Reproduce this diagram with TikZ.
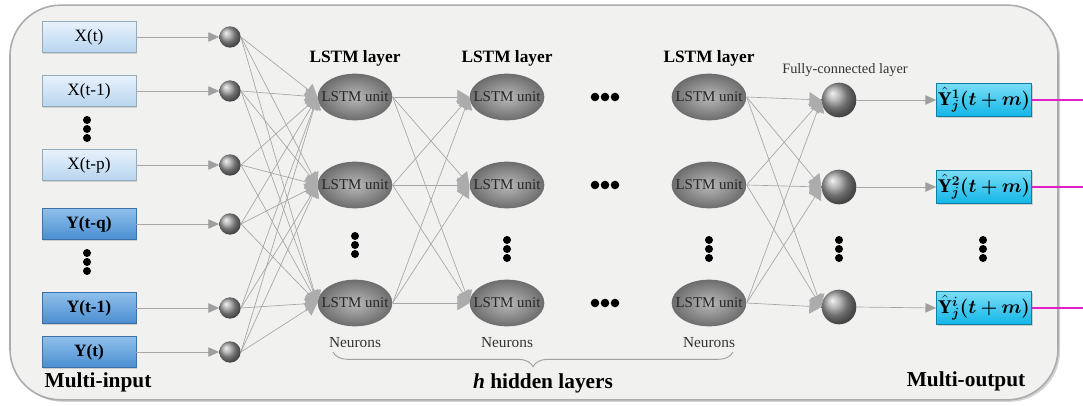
\documentclass[tikz,border=0pt]{standalone}
\usepackage{fontspec}
\setmainfont{Liberation Serif}
\usepackage{bm}
\usetikzlibrary{shapes.geometric,shadows,arrows.meta,decorations.pathreplacing}
\definecolor{xtop}{HTML}{E8F2FC}
\definecolor{xbot}{HTML}{B8D5EF}
\definecolor{ytop}{HTML}{90C0EC}
\definecolor{ybot}{HTML}{4A8DD0}
\definecolor{otop}{HTML}{7ADDF7}
\definecolor{obot}{HTML}{12B6E8}
\definecolor{mag}{HTML}{E020C8}
\definecolor{bgfill}{HTML}{F1F1EF}
\begin{document}
\begin{tikzpicture}[x=0.75pt,y=-0.75pt,
  xbox/.style={rectangle,minimum width=70.5pt,minimum height=23.5pt,inner sep=1pt,top color=xtop,bottom color=xbot,draw=xbot!80!black,line width=0.3pt,drop shadow={opacity=0.3,shadow xshift=1pt,shadow yshift=-1pt},font=\fontsize{13}{15}\selectfont},
  ybox/.style={xbox,top color=ytop,bottom color=ybot,draw=ybot!80!black,font=\fontsize{13}{15}\selectfont\bfseries},
  obox/.style={xbox,minimum width=71.5pt,minimum height=25pt,inner sep=0.5pt,top color=otop,bottom color=obot,draw=obot!70!black,font=\fontsize{14.5}{16}\selectfont},
  neuron/.style={circle,minimum size=16pt,inner sep=0pt,ball color=gray!75,draw=none},
  fcn/.style={circle,minimum size=26pt,inner sep=0pt,ball color=gray!75,draw=none},
  lstm/.style={ellipse,minimum width=56pt,minimum height=35pt,inner sep=0pt,inner color=gray!55,outer color=gray!85!black,draw=none},
  unitlab/.style={label={[font=\fontsize{11.2}{13}\selectfont,text=black!85]center:LSTM unit}},
  conn/.style={draw=gray!70,line width=0.5pt},
  arr/.style={conn,-{Triangle[length=8pt,width=7pt,color=gray!75,fill=gray!75]}},
  bigarr/.style={conn,-{Triangle[length=9pt,width=11pt,color=gray!65,fill=gray!65]}},
  layerlab/.style={font=\fontsize{13}{15}\selectfont\bfseries},
  neulab/.style={font=\fontsize{11.5}{13}\selectfont,text=black!80},
  biglab/.style={font=\fontsize{16}{18}\selectfont\bfseries},
  dotc/.style={fill=black}
]
\useasboundingbox (0,0) rectangle (1083,406);
% background panel
\node[draw=gray!65,line width=1.2pt,fill=bgfill,rounded corners=38pt,minimum width=786pt,minimum height=296pt,inner sep=0pt,drop shadow={opacity=0.35,shadow xshift=1.5pt,shadow yshift=-1.5pt}] (panel) at (534,202.5) {};

% input boxes
\node[xbox] (x0) at (89,37) {X(t)};
\node[xbox] (x1) at (89,91) {X(t-1)};
\node[xbox] (xp) at (89,165) {X(t-p)};
\node[ybox] (yq) at (89,224) {Y(t-q)};
\node[ybox] (y1) at (89,308) {Y(t-1)};
\node[ybox] (y0) at (89,352) {Y(t)};

% input neurons
\foreach \n/\y in {a/37,b/91,c/165,d/224,e/308,f/352}
  \node[neuron] (n\n) at (230,\y) {};

\foreach \b/\n in {x0/a,x1/b,xp/c,yq/d,y1/e,y0/f}
  \draw[arr] (\b.east) -- (n\n.west);

% LSTM layers
\foreach \l/\x in {1/355,2/507,3/709}{
  \node[layerlab] (lab\l) at (\x,58) {LSTM layer};
  \node[lstm,unitlab] (l\l a) at (\x,97) {};
  \node[lstm,unitlab] (l\l b) at (\x,185) {};
  \node[lstm,unitlab] (l\l c) at (\x,303) {};
  \node[neulab] (nl\l) at (\x,343) {Neurons};
}

% fully connected
\node[font=\fontsize{10.75}{12}\selectfont,text=black!80] (fclab) at (845,70) {Fully-connected layer};
\node[fcn] (fa) at (839,100) {};
\node[fcn] (fb) at (839,187) {};
\node[fcn] (fc) at (839,307) {};

% outputs
\node[obox] (oa) at (984,100) {$\hat{\mathbf{Y}}^{\bm{1}}_{\bm{j}}\bm{(t+m)}$};
\node[obox] (ob) at (984,187) {$\hat{\mathbf{Y}}^{\bm{2}}_{\bm{j}}\bm{(t+m)}$};
\node[obox] (oc) at (984,308) {$\hat{\mathbf{Y}}^{\bm{i}}_{\bm{j}}\bm{(t+m)}$};
\coordinate (ea) at (1083,100);
\coordinate (eb) at (1083,187);
\coordinate (ec) at (1083,308);
\foreach \o in {a,b,c}
  \draw[mag,line width=1.2pt] (o\o.east) -- (e\o);

% connections input neurons -> LSTM layer 1
\foreach \n in {a,b,c,d,e,f}
  \foreach \m in {a,b,c}
    \draw[bigarr] (n\n.east) -- (l1\m.west);
% layer1 -> layer2
\foreach \n in {a,b,c}
  \foreach \m in {a,b,c}
    \draw[bigarr] (l1\n.east) -- (l2\m.west);
% layer3 -> fc
\foreach \n in {a,b,c}
  \foreach \m in {a,b,c}
    \draw[bigarr] (l3\n.east) -- (f\m.west);
% fc -> outputs
\foreach \m in {a,b,c}
  \draw[arr] (f\m.east) -- (o\m.west);

% vertical dots
\foreach \x/\y in {87/129,87/262,355/245,507/249,709/249,839/249,983/249}
  \foreach \d in {-9,0,9}
    \fill[dotc] (\x,\y+\d) circle (3pt);
% horizontal dots
\foreach \y in {97,185,303}
  \foreach \d in {-10,0,10}
    \fill[dotc] (605+\d,\y) circle (3.2pt);

% brace
\coordinate (bl) at (333,352);
\coordinate (br) at (733,352);
\draw[gray!75,line width=0.7pt,decorate,decoration={brace,amplitude=11pt,mirror}] (bl) -- (br);

% labels
\node[biglab,anchor=west] (mi) at (40,382) {Multi-input};
\node[biglab] (hl) at (543,383) {\textit{h} hidden layers};
\node[biglab,anchor=east] (mo) at (1030,381) {Multi-output};
\end{tikzpicture}
\end{document}
